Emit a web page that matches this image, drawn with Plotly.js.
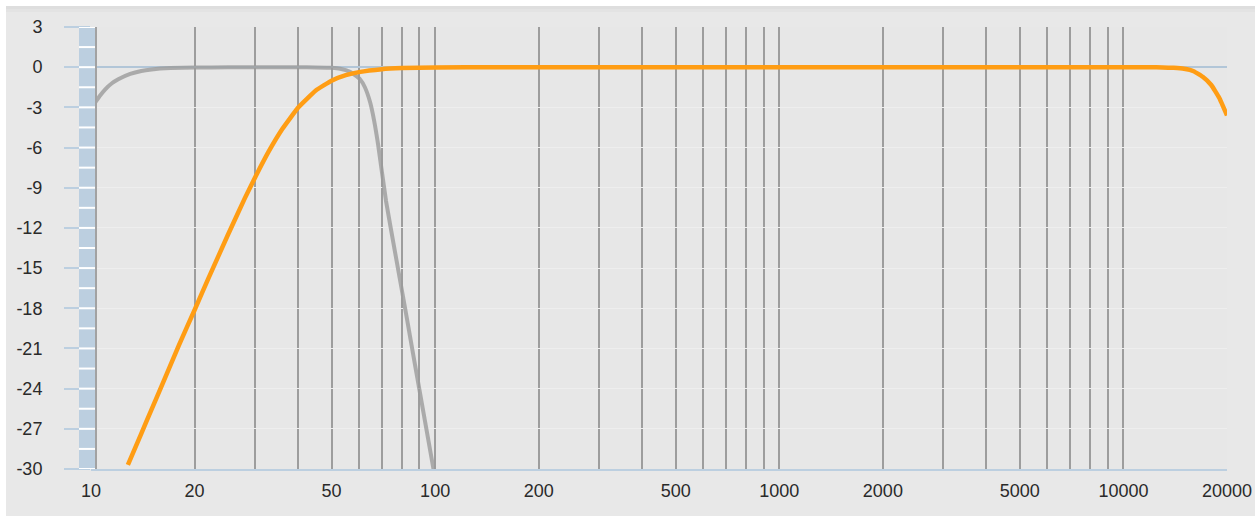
<!DOCTYPE html>
<html>
<head>
<meta charset="utf-8">
<script src="https://cdn.plot.ly/plotly-3.0.1.min.js"></script>
<style>html,body{margin:0;padding:0;background:#e8e8e8;}#chart{width:1255px;height:516px;}</style>
</head>
<body>
<div id="chart"></div>
<script>
// Frequency axis labels (Hz)
const xLabelFreqs = [10, 20, 50, 100, 200, 500, 1000, 2000, 5000, 10000, 20000];
// Vertical grid lines (Hz)
const gridFreqs = [20, 30, 40, 50, 60, 70, 80, 90, 100,
  200, 300, 400, 500, 600, 700, 800, 900, 1000,
  2000, 3000, 4000, 5000, 6000, 7000, 8000, 9000, 10000, 20000];
// dB tick labels
const yTicks = [3, 0, -3, -6, -9, -12, -15, -18, -21, -24, -27, -30];

// Gray curve (low-pass band)
const grayFreq = [10.3, 10.6, 11, 11.5, 12, 13, 14, 15, 17, 20, 25, 30, 40, 45, 50, 53, 56.6, 58.5, 60.5, 62.5, 64.7, 66.5, 68.3, 72, 76.7, 81.8, 87.1, 92.8, 98.9];
const grayDb   = [-2.6, -2.15, -1.65, -1.2, -0.9, -0.5, -0.28, -0.17, -0.07, -0.03, -0.01, 0, 0, -0.02, -0.05, -0.12, -0.35, -0.6, -0.9, -1.5, -2.6, -4.0, -5.8, -10, -14, -18, -22, -26, -30];

// Orange curve (high-pass band)
const orangeFreq = [12.8, 14, 15, 16, 18, 20, 22, 25, 28, 30, 33, 36, 40, 45, 50, 55, 60, 70, 80, 100, 150, 300, 1000, 5000, 10000, 12000, 13000, 14000, 15000, 16000, 17000, 18000, 19000, 20000];
const orangeDb   = [-29.7, -27.35, -25.55, -23.86, -20.77, -18.13, -15.7, -12.51, -9.78, -8.22, -6.2, -4.6, -3.01, -1.74, -1.01, -0.6, -0.37, -0.15, -0.07, -0.02, 0, 0, 0, 0, 0, 0, -0.02, -0.05, -0.12, -0.3, -0.72, -1.33, -2.3, -3.6];

const tickVals = Array.from(new Set(xLabelFreqs.concat(gridFreqs))).sort((a,b)=>a-b);
const tickText = tickVals.map(v => xLabelFreqs.includes(v) ? String(v) : '');

const L = 91, R = 1227, T = 27, B = 469;
const W = R - L, H = B - T;
const px = p => (p - L) / W;
const py = p => (B - p) / H;

const shapes = [];
// white outer frame (top & left)
shapes.push({type:'rect', xref:'paper', yref:'paper', x0:px(-2), x1:px(1257), y0:py(6), y1:py(-2), fillcolor:'#ffffff', line:{width:0}, layer:'above'});
shapes.push({type:'rect', xref:'paper', yref:'paper', x0:px(-2), x1:px(6), y0:py(518), y1:py(-2), fillcolor:'#ffffff', line:{width:0}, layer:'above'});
shapes.push({type:'rect', xref:'paper', yref:'paper', x0:px(6), x1:px(1257), y0:py(9), y1:py(6), fillcolor:'#dedede', line:{width:0}, layer:'below'});
shapes.push({type:'rect', xref:'paper', yref:'paper', x0:px(6), x1:px(1257), y0:py(12), y1:py(9), fillcolor:'#e3e3e3', line:{width:0}, layer:'below'});
// blue strip at left of plot
shapes.push({type:'rect', xref:'paper', yref:'paper', x0:px(79), x1:px(95), y0:0, y1:1, fillcolor:'#bccfe0', line:{width:0}, layer:'above'});
for (let d = -30; d <= 3.001; d += 1.5) {
  shapes.push({type:'line', xref:'paper', yref:'y', x0:px(79), x1:px(95), y0:d, y1:d, line:{color:'#ffffff', width:2}, layer:'above'});
}
// left axis line
shapes.push({type:'line', xref:'paper', yref:'paper', x0:px(96), x1:px(96), y0:0, y1:1, line:{color:'#a2a2a2', width:2}, layer:'above'});

const traces = [
  {x: grayFreq, y: grayDb, type:'scatter', mode:'lines', line:{color:'rgba(155,155,155,0.8)', width:4, shape:'spline', smoothing:0.4}, hoverinfo:'skip', showlegend:false},
  {x: orangeFreq, y: orangeDb, type:'scatter', mode:'lines', line:{color:'#ff9d14', width:4.5, shape:'spline', smoothing:0.3}, hoverinfo:'skip', showlegend:false}
];

const fnt = {family:'"Liberation Sans", Arial, sans-serif', size:18, color:'#2a2a2a'};

const layout = {
  width:1255, height:516, autosize:false,
  margin:{l:L, r:1255-R, t:T, b:516-B, pad:0},
  paper_bgcolor:'#e8e8e8', plot_bgcolor:'#e7e7e7',
  showlegend:false,
  font: fnt,
  xaxis:{type:'log', range:[1, Math.log10(20000)], tickmode:'array', tickvals:tickVals, ticktext:tickText,
    showgrid:true, gridcolor:'#9d9d9d', gridwidth:2, zeroline:false,
    showline:true, linecolor:'#bccfe0', linewidth:2, ticks:'', tickfont:fnt, ticklabelstandoff:4, fixedrange:true},
  yaxis:{range:[-30, 3], tickmode:'array', tickvals:yTicks, ticktext:yTicks.map(String),
    showgrid:true, gridcolor:'#eeeeee', gridwidth:1,
    zeroline:true, zerolinecolor:'#b2c6d8', zerolinewidth:1.5,
    showline:false, ticks:'outside', ticklen:26, tickwidth:2, tickcolor:'#bccfe0', tickfont:fnt, ticklabelstandoff:18, fixedrange:true},
  shapes: shapes
};

Plotly.newPlot('chart', traces, layout, {staticPlot:true, displayModeBar:false});
</script>
</body>
</html>
